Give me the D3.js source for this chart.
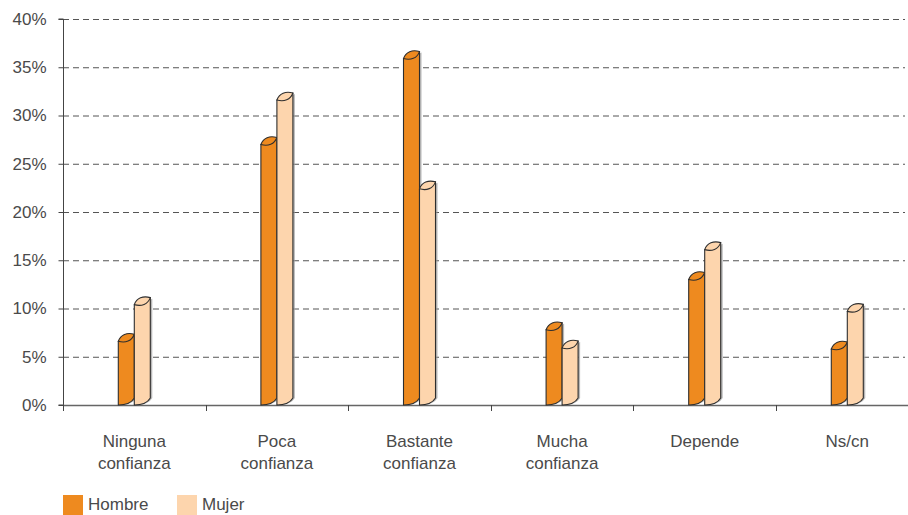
<!DOCTYPE html>
<html>
<head>
<meta charset="utf-8">
<script src="https://cdn.jsdelivr.net/npm/d3@7/dist/d3.min.js"></script>
<style>
  html, body { margin: 0; padding: 0; background: #fff; }
  svg { display: block; }
  text { font-family: "Liberation Sans", Arial, Helvetica, sans-serif; fill: #4a4a4a; }
</style>
</head>
<body>
<svg id="chart" width="908" height="515"></svg>
<script>
// Confidence levels by sex (percent)
const categories = [
  ["Ninguna", "confianza"],
  ["Poca", "confianza"],
  ["Bastante", "confianza"],
  ["Mucha", "confianza"],
  ["Depende"],
  ["Ns/cn"]
];
const seriesNames = ["Hombre", "Mujer"];
const hombre = [6.6, 27.0, 35.9, 7.8, 13.0, 5.8];
const mujer  = [10.4, 31.6, 22.4, 5.9, 16.1, 9.7];
const yTicks = [0, 5, 10, 15, 20, 25, 30, 35, 40];

const colors = ["#ee8a1f", "#fdd5ad"];

const svg = d3.select("#chart");
const plotLeft = 63, plotBottom = 405, plotTop = 19, plotRight = 918.6, gridEnd = 905;

const catKeys = categories.map(c => c.join(" "));
const x = d3.scaleBand().domain(catKeys).range([plotLeft, plotRight]);
const y = d3.scaleLinear().domain([0, 40]).range([plotBottom, plotTop]);

// dashed gridlines
svg.append("g").selectAll("line").data(yTicks.slice(1)).join("line")
  .attr("x1", plotLeft).attr("x2", gridEnd)
  .attr("y1", d => y(d) + 0.5).attr("y2", d => y(d) + 0.5)
  .attr("stroke", "#555").attr("stroke-width", 1)
  .attr("stroke-dasharray", "6,4");

// y axis
const yAxis = d3.axisLeft(y).tickValues(yTicks).tickSize(5).tickPadding(12)
  .tickFormat(d => d + "%");
const gy = svg.append("g").attr("transform", `translate(${plotLeft + 0.5},0)`).call(yAxis);
gy.select(".domain").attr("stroke", "#444").attr("d", `M-5,${plotTop}H0V${plotBottom}H-5`);
gy.selectAll(".tick line").attr("stroke", "#444");
gy.selectAll(".tick text").attr("font-size", 17).attr("fill", "#4a4a4a")
  .attr("font-family", "'Liberation Sans', Arial, sans-serif");

// x axis baseline and category separators
const gx = svg.append("g");
gx.append("line").attr("x1", plotLeft).attr("x2", 908)
  .attr("y1", plotBottom + 0.5).attr("y2", plotBottom + 0.5)
  .attr("stroke", "#666").attr("stroke-width", 1.5);
gx.selectAll("line.sep").data(catKeys).join("line").attr("class", "sep")
  .attr("x1", d => Math.round(x(d)) + 0.5).attr("x2", d => Math.round(x(d)) + 0.5)
  .attr("y1", plotBottom).attr("y2", plotBottom + 6)
  .attr("stroke", "#444");

// category labels
const lbl = svg.append("g").selectAll("text").data(categories).join("text")
  .attr("text-anchor", "middle")
  .attr("font-size", 17)
  .attr("x", (d, i) => x(catKeys[i]) + x.bandwidth() / 2);
lbl.selectAll("tspan").data(d => d).join("tspan")
  .attr("x", function () { return this.parentNode.getAttribute("x"); })
  .attr("y", (d, i) => 447 + i * 22)
  .text(d => d);

// pseudo-3D cylinder bars
const w = 16, dep = 7;
function bodyPath(x0, yt) {
  const x1 = x0 + w, b = plotBottom;
  return `M${x0},${b}L${x0},${yt}L${x1},${yt - dep}L${x1},${b - dep}` +
         `Q${x1 - w * 0.25},${b} ${x0},${b}Z`;
}
function capPath(x0, yt) {
  const x1 = x0 + w;
  return `M${x0},${yt}` +
         `C${x0 + w * 0.15},${yt - dep * 0.95} ${x0 + w * 0.55},${yt - dep * 1.3} ${x1},${yt - dep}` +
         `C${x1 - w * 0.15},${yt - dep * 0.05} ${x0 + w * 0.45},${yt + dep * 0.3} ${x0},${yt}Z`;
}

const series = [hombre, mujer];
const barsG = svg.append("g");
series.forEach((vals, s) => {
  const g = barsG.append("g");
  const xs = (i) => x(catKeys[i]) + x.bandwidth() / 2 - 16 + s * w;
  // soft shadow on the right side
  g.selectAll("path.shadow").data(vals).join("path").attr("class", "shadow")
    .attr("d", (v, i) => bodyPath(xs(i) + 2, y(v) + 1))
    .attr("fill", "#9a9a9a").attr("opacity", 0.7);
  g.selectAll("path.body").data(vals).join("path").attr("class", "body")
    .attr("d", (v, i) => bodyPath(xs(i), y(v)))
    .attr("fill", colors[s]).attr("stroke", "#2e2e2e").attr("stroke-width", 1.1)
    .attr("stroke-linejoin", "round");
  g.selectAll("path.cap").data(vals).join("path").attr("class", "cap")
    .attr("d", (v, i) => capPath(xs(i), y(v)))
    .attr("fill", colors[s]).attr("stroke", "#2e2e2e").attr("stroke-width", 1.1);
});

// legend
const leg = svg.append("g");
const legX = [63, 177];
seriesNames.forEach((n, i) => {
  leg.append("rect").attr("x", legX[i]).attr("y", 495).attr("width", 20).attr("height", 20)
    .attr("fill", colors[i]);
  leg.append("text").attr("x", legX[i] + 25).attr("y", 510).attr("font-size", 17).text(n);
});
</script>
</body>
</html>
